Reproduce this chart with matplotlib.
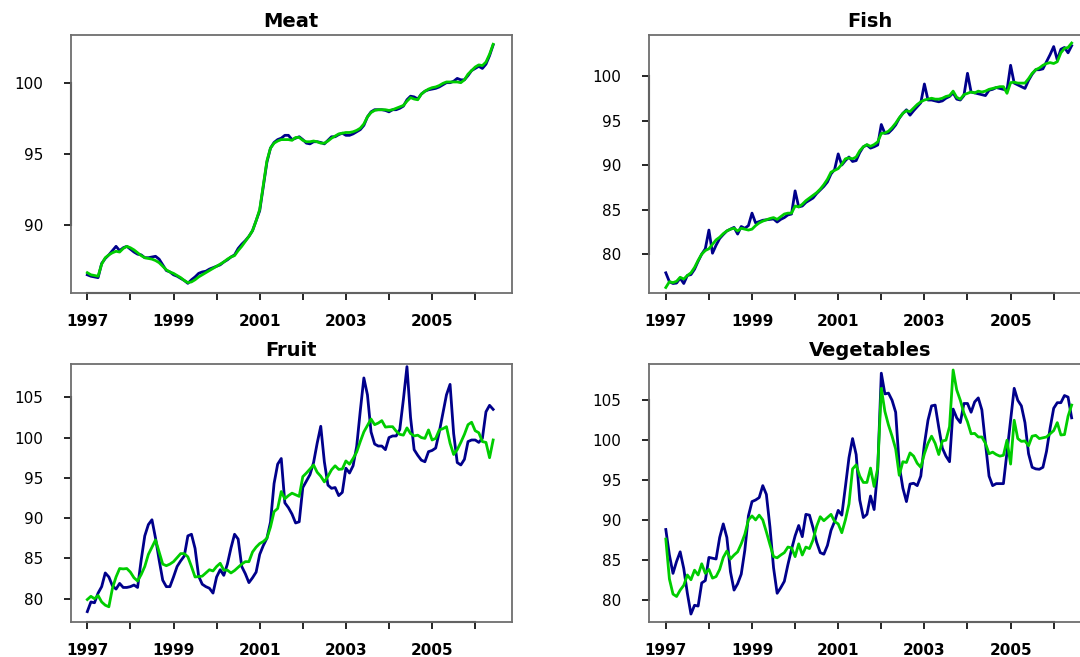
import numpy as np
import matplotlib
matplotlib.use("Agg")
import matplotlib.pyplot as plt

# monthly index values, Jan 1997 - Jun 2006
meat_actual = [86.5, 86.4, 86.35, 86.3, 87.3, 87.65, 87.9, 88.2, 88.5, 88.2,
               88.4, 88.5, 88.3, 88.1, 87.95, 87.9, 87.7, 87.7, 87.75, 87.8,
               87.6, 87.2, 86.8, 86.7, 86.5, 86.4, 86.25, 86.1, 85.9, 86.15,
               86.35, 86.6, 86.7, 86.75, 86.9, 87.0, 87.1, 87.2, 87.4, 87.55,
               87.75, 87.9, 88.35, 88.65, 88.9, 89.2, 89.6, 90.3, 91.0, 92.7,
               94.4, 95.4, 95.8, 96.0, 96.1, 96.3, 96.3, 96.0, 96.1, 96.2,
               96.0, 95.75, 95.7, 95.85, 95.85, 95.8, 95.7, 95.95, 96.2, 96.2,
               96.35, 96.45, 96.3, 96.3, 96.4, 96.55, 96.7, 97.0, 97.6, 97.95,
               98.1, 98.1, 98.1, 98.05, 97.95, 98.1, 98.1, 98.2, 98.35, 98.8,
               99.05, 99.0, 98.85, 99.2, 99.4, 99.5, 99.55, 99.6, 99.7, 99.85,
               100.0, 100.0, 100.1, 100.3, 100.2, 100.2, 100.5, 100.85, 101.0, 101.15,
               101.0, 101.3, 101.9, 102.65]
meat_adjusted = [86.65, 86.5, 86.45, 86.4, 87.25, 87.7, 87.9, 88.05, 88.15, 88.1,
                 88.35, 88.5, 88.4, 88.25, 88.05, 87.85, 87.7, 87.65, 87.6, 87.5,
                 87.35, 87.1, 86.85, 86.7, 86.6, 86.45, 86.3, 86.1, 85.95, 86.0,
                 86.15, 86.35, 86.5, 86.65, 86.8, 86.95, 87.1, 87.25, 87.4, 87.6,
                 87.75, 87.85, 88.2, 88.5, 88.85, 89.2, 89.6, 90.3, 91.1, 92.8,
                 94.5, 95.4, 95.75, 95.9, 96.0, 96.0, 96.0, 95.95, 96.15, 96.15,
                 95.95, 95.85, 95.85, 95.9, 95.85, 95.75, 95.75, 95.9, 96.1, 96.25,
                 96.4, 96.45, 96.5, 96.5, 96.55, 96.65, 96.8, 97.1, 97.6, 97.9,
                 98.05, 98.1, 98.1, 98.1, 98.05, 98.1, 98.2, 98.3, 98.4, 98.7,
                 98.95, 98.85, 98.8, 99.2, 99.4, 99.55, 99.65, 99.7, 99.8, 99.95,
                 100.05, 100.05, 100.05, 100.05, 100.0, 100.2, 100.6, 100.85, 101.1, 101.25,
                 101.2, 101.45, 102.0, 102.7]

fish_actual = [77.9, 76.9, 76.7, 76.75, 77.3, 76.7, 77.6, 77.7, 78.3, 79.2,
               80.0, 80.6, 82.7, 80.1, 81.0, 81.75, 82.2, 82.6, 82.8, 83.0,
               82.25, 83.1, 82.9, 83.2, 84.6, 83.5, 83.65, 83.8, 83.85, 83.9,
               83.95, 83.6, 83.9, 84.1, 84.4, 84.5, 87.1, 85.3, 85.4, 85.8,
               86.05, 86.3, 86.8, 87.2, 87.6, 88.1, 89.0, 89.5, 91.25, 90.0,
               90.5, 90.9, 90.4, 90.5, 91.4, 92.05, 92.25, 91.9, 92.05, 92.25,
               94.55, 93.55, 93.6, 94.0, 94.5, 95.25, 95.8, 96.2, 95.6, 96.1,
               96.55, 97.0, 99.1, 97.3, 97.3, 97.2, 97.1, 97.2, 97.5, 97.7,
               98.1, 97.4, 97.3, 97.8, 100.3, 98.2, 98.1, 98.0, 97.9, 97.8,
               98.4, 98.5, 98.7, 98.6, 98.5, 98.4, 101.2, 99.2, 99.0, 98.8,
               98.6, 99.5, 100.2, 100.7, 100.7, 100.8, 101.6, 102.4, 103.3, 101.8,
               103.0, 103.2, 102.6, 103.4]
fish_adjusted = [76.25, 76.9, 76.8, 76.95, 77.4, 77.2, 77.6, 77.9, 78.5, 79.3,
                 80.0, 80.4, 80.6, 81.1, 81.6, 81.9, 82.3, 82.6, 82.8, 82.9,
                 82.6, 82.9, 82.8, 82.7, 82.8, 83.2, 83.5, 83.7, 83.85, 84.0,
                 84.1, 83.9, 84.2, 84.5, 84.6, 84.6, 85.4, 85.3, 85.6, 86.0,
                 86.3, 86.6, 86.9, 87.3, 87.8, 88.4, 89.2, 89.4, 89.6, 90.1,
                 90.7, 90.8, 90.7, 90.9, 91.6, 92.05, 92.3, 92.1, 92.3, 92.6,
                 93.55, 93.6, 93.8, 94.2, 94.7, 95.3, 95.8, 96.1, 96.0, 96.4,
                 96.8, 97.1, 97.3, 97.4, 97.5, 97.4, 97.4, 97.5, 97.7, 97.8,
                 98.3, 97.6, 97.4, 97.9, 98.05, 98.2, 98.1, 98.3, 98.2, 98.3,
                 98.5, 98.6, 98.7, 98.8, 98.8, 98.05, 99.25, 99.3, 99.2, 99.2,
                 99.2, 99.7, 100.3, 100.7, 100.9, 101.2, 101.4, 101.5, 101.4, 101.6,
                 102.6, 103.1, 103.2, 103.7]

fruit_actual = [78.4, 79.6, 79.5, 80.7, 81.5, 83.2, 82.7, 81.6, 81.2, 81.9,
                81.4, 81.4, 81.5, 81.7, 81.4, 84.8, 87.8, 89.2, 89.8, 87.5,
                84.8, 82.3, 81.5, 81.5, 82.7, 84.0, 84.7, 85.3, 87.8, 88.0,
                86.25, 82.8, 81.8, 81.5, 81.3, 80.7, 82.7, 83.6, 82.9, 84.3,
                86.3, 88.0, 87.4, 84.0, 83.1, 82.0, 82.6, 83.3, 85.5, 86.6,
                87.5, 89.5, 94.3, 96.7, 97.4, 91.9, 91.3, 90.5, 89.4, 89.55,
                93.8, 94.6, 95.4, 96.9, 99.3, 101.4, 97.0, 94.1, 93.7, 93.8,
                92.8, 93.2, 96.2, 95.6, 96.5, 98.9, 103.3, 107.4, 105.3, 100.7,
                99.2, 98.95, 98.95, 98.5, 100.0, 100.2, 100.2, 101.0, 104.7, 108.8,
                102.5, 98.5, 97.8, 97.2, 97.0, 98.25, 98.4, 98.7, 100.7, 103.0,
                105.3, 106.6, 100.5, 96.9, 96.6, 97.3, 99.5, 99.7, 99.7, 99.4,
                99.9, 103.2, 104.0, 103.5]
fruit_adjusted = [79.9, 80.3, 80.0, 80.4, 79.6, 79.2, 79.0, 81.3, 82.7, 83.75,
                  83.7, 83.75, 83.3, 82.6, 82.2, 83.0, 84.0, 85.5, 86.4, 87.3,
                  85.8, 84.3, 84.1, 84.3, 84.6, 85.1, 85.6, 85.6, 85.2, 84.0,
                  82.7, 82.75, 82.8, 83.2, 83.6, 83.45, 84.0, 84.4, 83.55, 83.55,
                  83.2, 83.5, 83.9, 84.3, 84.6, 84.6, 85.8, 86.4, 86.85, 87.1,
                  87.5, 88.9, 90.8, 91.2, 93.3, 92.4, 92.8, 93.1, 92.9, 92.7,
                  95.15, 95.6, 96.1, 96.6, 95.7, 95.2, 94.5, 95.2, 96.0, 96.5,
                  96.05, 96.1, 97.1, 96.7, 97.4, 98.2, 99.5, 100.7, 101.5, 102.3,
                  101.6, 101.8, 102.1, 101.3, 101.35, 101.35, 100.8, 100.4, 100.3, 101.2,
                  100.5, 100.2, 100.3, 100.0, 99.9, 100.95, 99.7, 99.9, 100.95, 101.1,
                  101.35, 99.3, 97.9, 98.5, 99.4, 100.4, 101.6, 101.9, 100.85, 100.6,
                  99.5, 99.4, 97.5, 99.7]

veg_actual = [88.8, 85.6, 83.3, 84.8, 86.0, 83.9, 80.8, 78.2, 79.3, 79.2,
              82.1, 82.4, 85.3, 85.2, 85.1, 87.8, 89.5, 87.8, 83.5, 81.2,
              82.0, 83.2, 86.2, 90.5, 92.3, 92.5, 92.8, 94.3, 93.2, 89.1,
              84.0, 80.8, 81.5, 82.3, 84.4, 86.3, 88.0, 89.3, 87.9, 90.7,
              90.6, 89.0, 87.2, 85.9, 85.7, 86.8, 88.7, 89.8, 91.2, 90.6,
              94.15, 97.8, 100.2, 98.2, 92.5, 90.3, 90.7, 93.0, 91.3, 96.3,
              108.4, 105.8, 105.9, 105.0, 103.5, 96.8, 94.0, 92.3, 94.5, 94.6,
              94.3, 95.5, 99.5, 102.5, 104.3, 104.4, 101.6, 99.0, 98.0, 97.3,
              103.9, 102.8, 102.2, 104.6, 104.6, 103.5, 104.8, 105.3, 103.8, 99.6,
              95.5, 94.3, 94.55, 94.55, 94.55, 98.5, 102.5, 106.5, 105.0, 104.3,
              102.2, 98.3, 96.6, 96.4, 96.35, 96.6, 98.6, 101.5, 104.0, 104.7,
              104.7, 105.6, 105.4, 102.8]
veg_adjusted = [87.6, 82.6, 80.7, 80.4, 81.2, 81.8, 83.1, 82.5, 83.7, 83.1,
                84.5, 83.3, 83.8, 82.7, 82.9, 83.8, 85.3, 86.1, 85.1, 85.6,
                86.0, 87.0, 88.2, 90.0, 90.5, 90.0, 90.6, 90.0, 88.5, 86.9,
                85.4, 85.25, 85.6, 85.9, 86.6, 86.5, 85.4, 87.0, 85.6, 86.6,
                86.4, 87.5, 89.2, 90.4, 89.9, 90.3, 90.7, 89.8, 89.5, 88.4,
                90.0, 92.0, 96.4, 96.9, 95.5, 94.7, 94.7, 96.5, 94.2, 96.5,
                106.5, 103.6, 101.9, 100.5, 98.9, 95.6, 97.3, 97.2, 98.4, 98.0,
                97.1, 96.6, 98.3, 99.6, 100.5, 99.6, 98.2, 99.9, 100.0, 101.7,
                108.8, 106.3, 105.0, 103.4, 102.3, 100.8, 100.85, 100.4, 100.4, 99.6,
                98.3, 98.5, 98.2, 98.0, 98.1, 100.0, 97.0, 102.5, 100.2, 99.85,
                99.9, 99.3, 100.5, 100.6, 100.2, 100.3, 100.4, 100.8, 101.2, 102.2,
                100.65, 100.7, 103.0, 104.4]

titles = ["Meat", "Fish", "Fruit", "Vegetables"]
series = [(meat_actual, meat_adjusted), (fish_actual, fish_adjusted),
          (fruit_actual, fruit_adjusted), (veg_actual, veg_adjusted)]
yticks = [[90, 95, 100], [80, 85, 90, 95, 100],
          [80, 85, 90, 95, 100, 105], [80, 85, 90, 95, 100, 105]]
ylims = [(85.2, 103.35), (75.6, 104.6), (77.15, 109.13), (77.24, 109.55)]
years = list(range(1997, 2007))
year_labels = [str(y) if y % 2 == 1 else "" for y in years]

t = 1997 + np.arange(len(meat_actual)) / 12.0

W, H = 1080, 657
# panel boxes in pixels: left, top, right, bottom
boxes = [(70.8, 35, 511.7, 293.3), (649.3, 35, 1090.2, 293.3),
         (70.8, 364, 511.7, 621.7), (649.3, 364, 1090.2, 621.7)]

fig = plt.figure(figsize=(W / 100, H / 100), dpi=100)
fig.patch.set_facecolor("white")

for k in range(4):
    l, tp, r, b = boxes[k]
    ax = fig.add_axes([l / W, 1 - b / H, (r - l) / W, (b - tp) / H])
    actual, adjusted = series[k]
    ax.plot(t, actual, color="#00008B", lw=2.0)
    ax.plot(t, adjusted, color="#00CD00", lw=2.0)

    ax.set_xlim(1996.617, 2006.847)
    ax.set_ylim(*ylims[k])
    for s in ax.spines.values():
        s.set_color("#6e6e6e")
        s.set_linewidth(1.3)

    ax.set_xticks(years)
    ax.set_xticklabels(year_labels, fontsize=11, fontweight="bold")
    ax.set_yticks(yticks[k])
    ax.set_yticklabels([str(v) for v in yticks[k]], fontsize=11)
    ax.tick_params(axis="x", length=5, width=1.2, pad=10, colors="black")
    ax.tick_params(axis="y", length=5, width=1.2, pad=15, colors="black")

    # axis lines from first to last tick
    ax.plot([years[0], years[-1]], [0, 0], color="black", lw=1.5,
            transform=ax.get_xaxis_transform(), clip_on=False)
    ax.plot([0, 0], [yticks[k][0], yticks[k][-1]], color="black", lw=1.5,
            transform=ax.get_yaxis_transform(), clip_on=False)

    ax.set_title(titles[k], fontsize=14, fontweight="bold", pad=6)

fig.savefig("out.png", dpi=100, facecolor="white")
